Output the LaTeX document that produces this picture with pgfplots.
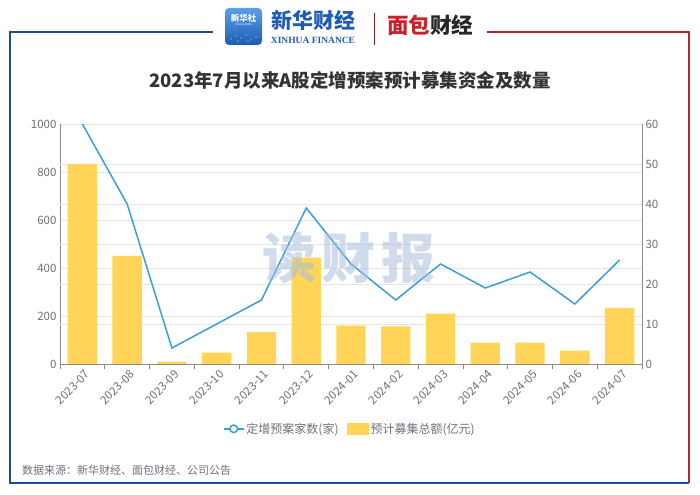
\documentclass[border=0pt]{standalone}
\usepackage{pgfplots}
\pgfplotsset{compat=1.18}
\usepackage{fontspec}
\setmainfont{Noto Sans CJK SC}
\newfontfamily\serifen{Liberation Serif}
\definecolor{barc}{HTML}{FFD457}
\definecolor{linec}{HTML}{3A9FD5}
\definecolor{gridc}{HTML}{E4E4E4}
\definecolor{tickc}{HTML}{6E7079}
\definecolor{axisc}{HTML}{8A8A8A}
\definecolor{frameblue}{HTML}{1F4A94}
\definecolor{framered}{HTML}{B8262B}
\definecolor{logoblue}{HTML}{1E5BB8}
\definecolor{logored}{HTML}{C8232B}
\definecolor{wmark}{HTML}{A9BEDC}
\definecolor{titlec}{HTML}{333333}

\begin{document}
\begin{tikzpicture}
\path[use as bounding box] (0bp,0bp) rectangle (700bp,495bp);
% frame
\draw[frameblue, line width=1.5bp] (213bp,463bp) -- (10bp,463bp) -- (10bp,12bp) -- (689bp,12bp);
\draw[framered, line width=1.5bp] (487bp,463bp) -- (689bp,463bp) -- (689bp,12bp);
% header logo
\shade[rounded corners=4bp, top color={rgb,255:red,92;green,160;blue,230}, bottom color={rgb,255:red,28;green,92;blue,180}] (225bp,450bp) rectangle (262bp,487bp);
\node[white, font=\fontsize{8.5bp}{9bp}\selectfont\bfseries] at (243.5bp,477bp) {新华社};
\node[white, font=\fontsize{2.5bp}{3bp}\selectfont] at (243.5bp,470bp) {XINHUA NEWS};
\foreach \px/\py in {231/456,236/459,241/457,246/460,251/456,256/458,238/454,248/454}{\fill[white,opacity=0.8] (\px bp,\py bp) circle (0.7bp);}
\node[logoblue, font=\fontsize{21bp}{22bp}\selectfont\bfseries\itshape] at (313bp,475bp) {新华财经};
\node[logoblue, font=\fontsize{9.5bp}{10bp}\selectfont\serifen\bfseries] at (313bp,455bp) {XINHUA FINANCE};
\draw[logored!70!black, line width=0.8bp] (374bp,482bp) -- (374bp,450bp);
\node[font=\fontsize{21.5bp}{22bp}\selectfont\bfseries, inner sep=0] at (430bp,470bp) {\textcolor{logored}{面包}\textcolor{black!85}{财经}};
% title
\node[titlec, font=\fontsize{18.5bp}{20bp}\selectfont\bfseries] at (350bp,415bp) {2023年7月以来A股定增预案预计募集资金及数量};

\begin{axis}[
  at={(60bp,131bp)}, anchor=south west,
  width=582bp, height=240bp, scale only axis,
  xmin=-0.5, xmax=12.5, ymin=0, ymax=1000,
  axis x line*=bottom, axis y line*=left,
  axis line style={draw=axisc, line width=0.8bp},
  tick align=outside,
  major tick length=0pt, minor tick length=5bp,
  tick style={draw=axisc, line width=0.8bp},
  xtick={0,...,12},
  xticklabels={2023-07,2023-08,2023-09,2023-10,2023-11,2023-12,2024-01,2024-02,2024-03,2024-04,2024-05,2024-06,2024-07},
  minor x tick num=1,
  extra x ticks={-0.5,12.5}, extra x tick labels={},
  extra x tick style={major tick length=5bp},
  x tick label style={rotate=45, anchor=north east, font=\fontsize{11.5bp}{12bp}\selectfont, text=tickc, inner sep=2bp, yshift=-3bp},
  ytick={0,200,...,1000},
  y tick label style={font=\fontsize{11.5bp}{12bp}\selectfont, text=tickc},
  /pgf/number format/assume math mode=true,
  /pgf/number format/1000 sep={},
  ymajorgrids, grid style={gridc, line width=0.8bp},
  extra y ticks={166.667,333.333,500,666.667,833.333}, extra y tick labels={},
  extra y tick style={grid=major},
  legend style={at={(0.498,-0.27)}, anchor=center, draw=none, fill=none, legend columns=2,
    font=\fontsize{12bp}{12bp}\selectfont, text=tickc,
    /tikz/every even column/.append style={column sep=6bp}},
  legend cell align=left,
]
\addlegendimage{legend image code/.code={\draw[linec, line width=1.5bp] (-2bp,0bp) -- (18bp,0bp); \draw[linec, line width=1.5bp, fill=white] (8bp,0bp) circle (3.8bp);}}
\addlegendentry{定增预案家数(家)}
\addplot[ybar, bar width=0.655, fill=barc, draw=none,
  legend image code/.code={\fill[barc] (-2bp,-6bp) rectangle (20bp,6bp);}]
coordinates {(0,833) (1,451) (2,10) (3,47) (4,133) (5,443) (6,160) (7,157) (8,210) (9,89) (10,89) (11,56) (12,233)};
\addlegendentry{预计募集总额(亿元)}
\end{axis}

\begin{axis}[
  at={(60bp,131bp)}, anchor=south west,
  width=582bp, height=240bp, scale only axis,
  xmin=-0.5, xmax=12.5, ymin=0, ymax=60,
  axis y line*=right, axis x line=none,
  axis line style={draw=axisc, line width=0.8bp},
  major tick length=0pt,
  ytick={0,10,...,60},
  y tick label style={font=\fontsize{11.5bp}{12bp}\selectfont, text=tickc},
  /pgf/number format/assume math mode=true,
  clip=false,
]
\addplot[linec, line width=1.5bp, no marks] coordinates {(0,60) (1,40) (2,4) (3,10) (4,16) (5,39) (6,25) (7,16) (8,25) (9,19) (10,23) (11,15) (12,26)};
\end{axis}

% watermark
\node[wmark, opacity=0.55, font=\fontsize{54bp}{56bp}\selectfont\bfseries] at (349bp,237bp) {读\hspace{6bp}财\hspace{6bp}报};
% source
\node[anchor=west, text=tickc, font=\fontsize{11bp}{12bp}\selectfont, inner sep=0] at (22bp,25bp) {数据来源：新华财经、面包财经、公司公告};
\end{tikzpicture}
\end{document}
